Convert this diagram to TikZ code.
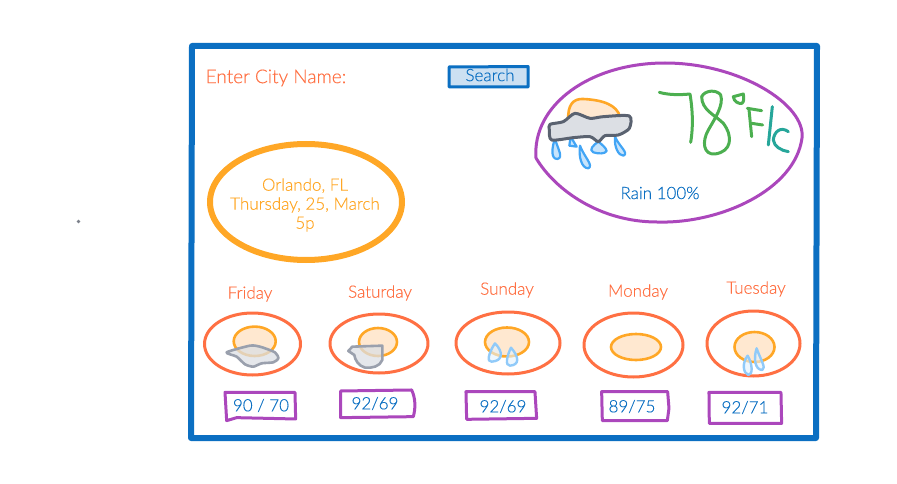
\documentclass[tikz,border=0pt]{standalone}
\usepackage{fontspec}
\setmainfont{Lato Light}[FakeBold=0.25]
\definecolor{framecol}{HTML}{0B6FC2}
\definecolor{btncol}{HTML}{CCE0F2}
\definecolor{suncol}{HTML}{FFA726}
\definecolor{sunfill}{HTML}{FFE8D0}
\definecolor{daycol}{HTML}{FF7043}
\definecolor{boxcol}{HTML}{AB47BC}
\definecolor{raincol}{HTML}{42A5F5}
\definecolor{rainlite}{HTML}{90CAF9}
\definecolor{tempcol}{HTML}{4CAF50}
\definecolor{unitcol}{HTML}{26A69A}
\definecolor{cloudcol}{HTML}{5A6270}
\definecolor{cloudlite}{HTML}{9AA0AD}
\definecolor{cloudfill}{HTML}{DCDFE4}

\begin{document}
\begin{tikzpicture}[x=1pt,y=-1pt,line join=round,line cap=round,
  label/.style={inner sep=0pt,font=\fontsize{17}{19}\selectfont},
  day/.style={label,text=daycol},
  temp/.style={label,text=framecol,font=\fontsize{17}{19}\selectfont},
  dayring/.style={draw=daycol,line width=3pt},
  sun/.style={draw=suncol,fill=sunfill,line width=2.6pt},
  tempbox/.style={draw=boxcol,line width=3pt},
  cloudbig/.style={draw=cloudcol,fill=cloudfill,line width=3pt},
  cloudsmall/.style={draw=cloudlite,fill=cloudfill,fill opacity=.75,line width=2.6pt},
  dropbig/.style={draw=raincol,fill=rainlite!50,line width=2.2pt},
  dropsmall/.style={draw=rainlite,fill=rainlite!25,fill opacity=.6,line width=2.4pt},
  stroke/.style={line width=3pt}]
\useasboundingbox (0,0) rectangle (897,484);

\fill[cloudlite!80!black] (78.5,221.5) circle (1.8);

% outer frame and search button
\draw[framecol,line width=6pt] (192,46) -- (817,46) -- (816,438) -- (191,438) -- cycle;
\draw[framecol,fill=btncol,line width=3pt] (449,67) -- (528,66.5) -- (528,87) -- (449,87) -- cycle;
\node[day,anchor=west] (cityname) at (205.5,78) {\fontsize{19}{20}\selectfont Enter City Name:};
\node[label,text=framecol] (search) at (490,75) {Search};

% city
\draw[suncol,line width=6pt] (306,202) ellipse [x radius=96,y radius=58];
\node[label,text=suncol,align=center] (city) at (305,205) {Orlando, FL\\Thursday, 25, March\\5p};

% current weather
\draw[boxcol,line width=3pt] (536,158) .. controls (555,190) and (600,222) .. (657,222) .. controls (720,224) and (795,190) .. (802,138) .. controls (806,105) and (740,63) .. (665,63) .. controls (590,63) and (532,105) .. (536,158) -- cycle;
\begin{scope}[shift={(540,85)},scale=.3333]
\draw[sun] (85,105) .. controls (82,60) and (100,40) .. (130,42) .. controls (190,45) and (230,60) .. (240,95) -- cycle;
\draw[dropbig] (45,160) .. controls (35,190) and (32,222) .. (52,222) .. controls (72,218) and (52,190) .. (45,160);
\draw[dropbig] (95,130) -- (88,182) -- (110,185) -- (95,160) -- cycle;
\draw[dropbig] (120,182) .. controls (115,215) and (125,250) .. (145,250) .. controls (162,242) and (132,215) .. (120,182);
\draw[dropbig] (175,170) .. controls (160,180) and (145,195) .. (160,202) .. controls (175,207) and (195,207) .. (200,198) .. controls (198,188) and (185,178) .. (175,170);
\draw[dropbig] (225,155) .. controls (222,185) and (235,212) .. (250,212) .. controls (268,205) and (238,185) .. (225,155);
\draw[cloudbig] plot[smooth cycle,tension=.45] coordinates {(30,118) (70,110) (105,85) (150,100) (190,95) (268,93) (268,130) (235,150) (195,152) (175,170) (150,155) (100,158) (35,165) (28,135)};
\end{scope}
% big 78 and units
\begin{scope}[shift={(650,80)},scale=.3333]
\draw[tempcol,stroke] (28,37) .. controls (55,45) and (90,45) .. (120,42) .. controls (128,90) and (130,140) .. (122,187);
\draw[tempcol,stroke] (155,50) .. controls (155,90) and (195,105) .. (220,130) .. controls (250,170) and (245,215) .. (195,222) .. controls (160,225) and (155,185) .. (175,150) .. controls (195,115) and (222,75) .. (212,45) .. controls (200,28) and (165,30) .. (155,50) -- cycle;
\draw[tempcol,stroke] (250,50) -- (280,42) .. controls (282,55) and (282,65) .. (276,70) .. controls (265,72) and (252,65) .. (250,50) -- cycle;
\draw[tempcol,stroke] (297,88) -- (305,170);
\draw[tempcol,stroke] (292,85) -- (335,92);
\draw[tempcol,stroke] (305,130) -- (338,135);
\draw[unitcol,stroke] (367,80) -- (355,195);
\draw[unitcol,stroke] (415,155) .. controls (392,138) and (372,155) .. (370,180) .. controls (372,200) and (395,212) .. (415,215);
\end{scope}
\node[label,text=framecol] (rain) at (660,193) {Rain 100\%};

% forecast rings
\draw[dayring] (252.5,344) ellipse [x radius=48,y radius=31];
\draw[dayring] (379,343.5) ellipse [x radius=49,y radius=29.5];
\draw[dayring] (508,343) ellipse [x radius=52,y radius=31];
\draw[dayring] (633.5,345) ellipse [x radius=49.5,y radius=32];
\draw[dayring] (753.5,343.5) ellipse [x radius=46.5,y radius=32.5];

% forecast suns
\draw[sun] (254.7,341.3) ellipse [x radius=21,y radius=14.7];
\draw[sun] (378,342) ellipse [x radius=19,y radius=14];
\draw[sun] (507,342) ellipse [x radius=22,y radius=14.5];
\draw[sun] (636,347) ellipse [x radius=25,y radius=13];
\draw[sun] (754.5,347) ellipse [x radius=20,y radius=15];

% forecast clouds and drops
\begin{scope}[shift={(195,275)},scale=.3333]
\draw[cloudsmall] plot[smooth cycle,tension=.4] coordinates {(95,232) (165,212) (195,215) (240,232) (250,250) (235,262) (200,265) (175,275) (150,268) (125,245)};
\draw[cloudsmall] (460,228) -- (472,215) -- (562,212) -- (562,255) .. controls (555,275) and (530,280) .. (510,278) .. controls (490,272) and (480,255) .. (478,240) -- cycle;
\draw[dropsmall] (900,205) .. controls (880,235) and (875,262) .. (890,260) .. controls (925,258) and (925,230) .. (900,205);
\draw[dropsmall] (948,218) .. controls (935,245) and (930,272) .. (945,272) .. controls (975,270) and (972,245) .. (948,218);
\end{scope}
\begin{scope}[shift={(445,275)},scale=.3333]
\draw[dropsmall] (908,242) .. controls (890,265) and (895,295) .. (910,300) .. controls (925,300) and (922,265) .. (908,242);
\draw[dropsmall] (935,220) .. controls (925,250) and (930,285) .. (952,285) .. controls (965,280) and (945,250) .. (935,220);
\end{scope}

% day names
\node[day] (friday) at (250,294) {Friday};
\node[day] (saturday) at (380,293) {Saturday};
\node[day] (sunday) at (507,290) {Sunday};
\node[day] (monday) at (638,292) {Monday};
\node[day] (tuesday) at (756,289) {Tuesday};

% temperature boxes
\begin{scope}[shift={(195,275)},scale=.3333]
\draw[tempbox] (90,352) -- (300,352) -- (302,432) -- (125,428) -- (95,437) -- cycle;
\draw[tempbox] (437,348) -- (650,345) .. controls (662,370) and (662,400) .. (655,425) -- (437,428) -- cycle;
\draw[tempbox] (813,350) -- (1020,350) -- (1025,430) -- (815,433) -- cycle;
\end{scope}
\begin{scope}[shift={(445,275)},scale=.3333]
\draw[tempbox] (470,350) -- (668,350) -- (672,400) -- (667,437) -- (472,437) -- cycle;
\draw[tempbox] (792,352) -- (1008,352) -- (1010,445) -- (793,445) -- cycle;
\end{scope}
\node[temp] (fritemp) at (261,405.5) {90 / 70};
\node[temp] (sattemp) at (375,403.5) {92/69};
\node[temp] (suntemp) at (503,406.5) {92/69};
\node[temp] (montemp) at (632,406.5) {89/75};
\node[temp] (tuetemp) at (745,407.5) {92/71};

\end{tikzpicture}
\end{document}
